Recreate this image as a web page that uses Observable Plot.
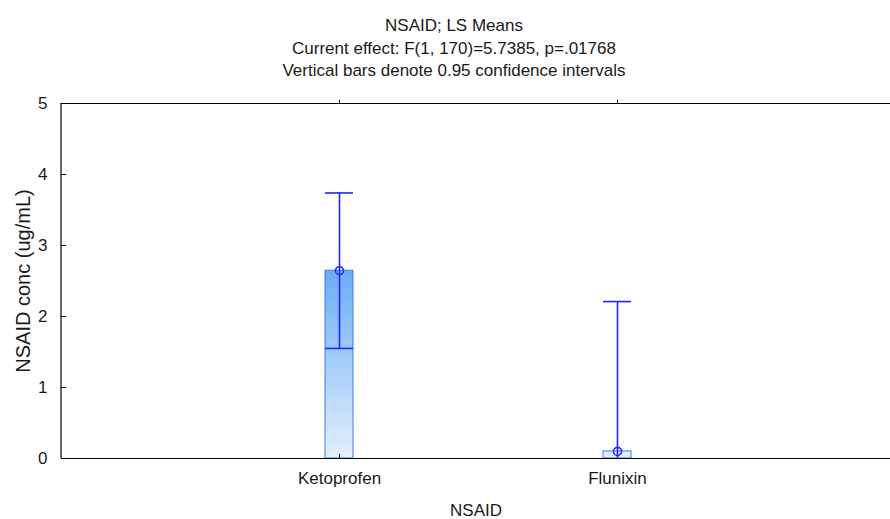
<!DOCTYPE html>
<html>
<head>
<meta charset="utf-8">
<script src="https://cdn.jsdelivr.net/npm/d3@7"></script>
<script src="https://cdn.jsdelivr.net/npm/@observablehq/plot@0.6"></script>
<style>
  body { margin: 0; overflow: hidden; background: white; }
  #title { width: 890px; height: 82px; box-sizing: border-box; padding: 15px 0 0 18px; text-align: center;
           font: 17px "Liberation Sans", Arial, sans-serif; line-height: 22.5px; color: #1a1a1a; }
</style>
</head>
<body>
<div id="title"></div>
<div id="chart"></div>
<script>
const titleLines = [
  "NSAID; LS Means",
  "Current effect: F(1, 170)=5.7385, p=.01768",
  "Vertical bars denote 0.95 confidence intervals"
];
const categories = ["Ketoprofen", "Flunixin"];
const means = [2.645, 0.10];
const ciLow = [1.55, -2.01];
const ciHigh = [3.74, 2.21];
const yTicks = [0, 1, 2, 3, 4, 5];
const xLabel = "NSAID";
const yLabel = "NSAID conc (ug/mL)";

document.getElementById("title").innerHTML = titleLines.map(t => `<div>${t}</div>`).join("");

const data = categories.map((c, i) => ({name: c, mean: means[i], lo: ciLow[i], hi: ciHigh[i]}));
const errColor = "#2424ff";

// left spine of the frame (the reference has no right spine)
const leftSpine = (index, scales, values, dims) => {
  const g = d3.create("svg:line")
    .attr("x1", dims.marginLeft).attr("x2", dims.marginLeft)
    .attr("y1", dims.marginTop).attr("y2", dims.height - dims.marginBottom)
    .attr("stroke", "black").attr("stroke-width", 1.2);
  return g.node();
};

const chart = Plot.plot({
  width: 890,
  height: 437,
  marginLeft: 61,
  marginRight: 0,
  marginTop: 21,
  marginBottom: 61,
  style: {fontFamily: "'Liberation Sans', Arial, sans-serif", fontSize: "17px", color: "#1a1a1a", background: "white", overflow: "hidden"},
  x: {type: "band", domain: categories, range: [61, 895], paddingInner: 0.8993, paddingOuter: 0.9496, align: 0.5, label: null},
  y: {domain: [0, 5], clamp: true, label: null},
  marks: [
    Plot.barY(data, {x: "name", y: "mean", fill: "url(#barGrad)", stroke: "#3f7fe6", strokeWidth: 1}),
    Plot.ruleY([0, 5], {stroke: "black", strokeWidth: 1.2}),
    leftSpine,
    Plot.axisY(yTicks, {tickSize: 0, tickPadding: 14, label: null, tickFormat: d => String(d), fontSize: 17}),
    Plot.axisY(yTicks, {tickSize: 5, dx: 5, label: null, tickFormat: () => "", stroke: "black"}),
    Plot.axisX({tickSize: 4, dy: -4, label: null, tickFormat: () => "", stroke: "black"}),
    Plot.axisX({anchor: "top", tickSize: 4, label: null, tickFormat: () => "", stroke: "black"}),
    Plot.axisX({tickSize: 0, tickPadding: 13, label: null, fontSize: 17}),
    Plot.ruleX(data, {x: "name", y1: "lo", y2: "hi", stroke: errColor, strokeWidth: 1.6}),
    Plot.tickY(data, {x: "name", y: "hi", stroke: errColor, strokeWidth: 1.6}),
    Plot.tickY(data, {filter: d => d.lo >= 0, x: "name", y: "lo", stroke: errColor, strokeWidth: 1.6}),
    Plot.dot(data, {x: "name", y: "mean", r: 4, stroke: errColor, fill: "none", strokeWidth: 1.6}),
    Plot.text([xLabel], {frameAnchor: "bottom", dy: 52, lineAnchor: "middle", fontSize: 17, fill: "#1a1a1a"}),
    Plot.text([yLabel], {frameAnchor: "left", rotate: -90, dx: -38, textAnchor: "middle", lineAnchor: "middle", fontSize: 20, fill: "#1a1a1a"})
  ]
});

// gradient in user space, mapped through the y scale
const ys = chart.scale("y");
const yBottom = ys.apply(0);
const yTop = ys.apply(d3.max(means));
const svgNS = "http://www.w3.org/2000/svg";
const defs = document.createElementNS(svgNS, "defs");
const grad = document.createElementNS(svgNS, "linearGradient");
grad.setAttribute("id", "barGrad");
grad.setAttribute("gradientUnits", "userSpaceOnUse");
grad.setAttribute("x1", "0"); grad.setAttribute("x2", "0");
grad.setAttribute("y1", String(yBottom)); grad.setAttribute("y2", String(yTop));
[["0", "#e3effd"], ["1", "#69adf6"]].forEach(([o, c]) => {
  const s = document.createElementNS(svgNS, "stop");
  s.setAttribute("offset", o); s.setAttribute("stop-color", c);
  grad.appendChild(s);
});
defs.appendChild(grad);
chart.insertBefore(defs, chart.firstChild);

document.getElementById("chart").appendChild(chart);
</script>
</body>
</html>
